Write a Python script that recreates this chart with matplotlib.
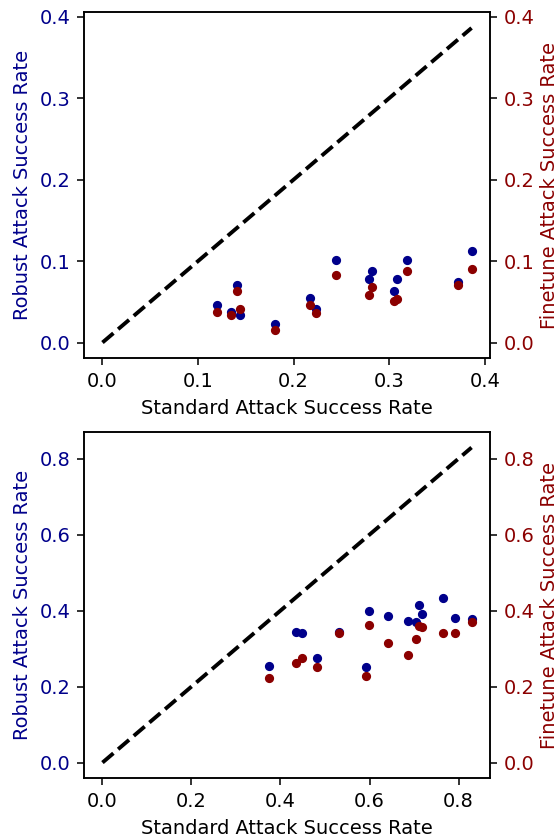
import numpy as np
import matplotlib
matplotlib.use('Agg')
import matplotlib.pyplot as plt
from matplotlib.ticker import MultipleLocator

# ── top panel: standard vs robust / finetune success rate ───────────────────
std_top = [0.1195, 0.1345, 0.1405, 0.1436, 0.1803, 0.2166, 0.2229, 0.2446,
           0.2788, 0.2816, 0.3046, 0.3082, 0.3187, 0.3724, 0.3861]
rob_top = [0.0459, 0.0378, 0.0700, 0.0337, 0.0223, 0.0549, 0.0415, 0.1009,
           0.0785, 0.0874, 0.0630, 0.0785, 0.1009, 0.0740, 0.1127]
fin_top = [0.0374, 0.0337, 0.0630, 0.0407, 0.0150, 0.0459, 0.0358, 0.0834,
           0.0581, 0.0684, 0.0508, 0.0529, 0.0874, 0.0700, 0.0904]

# ── bottom panel ─────────────────────────────────────────────────────────────
std_bot = [0.3734, 0.4358, 0.4493, 0.4831, 0.5305, 0.5913, 0.5980, 0.6423,
           0.6860, 0.7054, 0.7114, 0.7182, 0.7655, 0.7910, 0.8293]
rob_bot = [0.2550, 0.3447, 0.3400, 0.2743, 0.3447, 0.2516, 0.3993, 0.3850,
           0.3737, 0.3710, 0.4150, 0.3920, 0.4325, 0.3808, 0.3770]
fin_bot = [0.2215, 0.2620, 0.2743, 0.2516, 0.3400, 0.2286, 0.3623, 0.3138,
           0.2840, 0.3254, 0.3587, 0.3580, 0.3400, 0.3400, 0.3700]

panels = [(std_top, rob_top, fin_top, 0.1), (std_bot, rob_bot, fin_bot, 0.2)]

DPI = 139.75
fig = plt.figure(figsize=(559 / DPI, 839 / DPI), dpi=DPI)
rects = [[0.1503, 0.573, 0.7263, 0.4124],
         [0.1503, 0.0723, 0.7263, 0.4131]]

for rect, (std, rob, fin, step) in zip(rects, panels):
    std = np.array(std)
    ax = fig.add_axes(rect)
    m = std.max()
    ax.plot([0, m], [0, m], 'k--', lw=2)
    ax.scatter(std, rob, color='darkblue', s=14, zorder=3)
    ax.xaxis.set_major_locator(MultipleLocator(step))
    ax.yaxis.set_major_locator(MultipleLocator(step))
    ax.set_xlabel('Standard Attack Success Rate')
    ax.set_ylabel('Robust Attack Success Rate', color='darkblue')
    ax.tick_params(axis='y', labelcolor='darkblue')

    ax2 = ax.twinx()
    ax2.scatter(std, fin, color='darkred', s=14, zorder=3)
    ax2.set_ylim(ax.get_ylim())
    ax2.yaxis.set_major_locator(MultipleLocator(step))
    ax2.set_ylabel('Finetune Attack Success Rate', color='darkred', labelpad=3)
    ax2.tick_params(axis='y', labelcolor='darkred')

fig.savefig('out.png', dpi=DPI)
